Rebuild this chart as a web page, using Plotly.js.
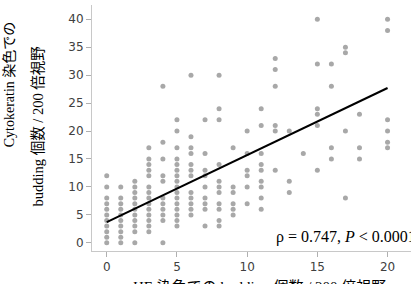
<!DOCTYPE html>
<html>
<head>
<meta charset="utf-8">
<script src="https://cdn.plot.ly/plotly-3.0.1.min.js"></script>
<style>html,body{margin:0;padding:0;background:#fff;}#chart{width:411px;height:284px;}</style>
</head>
<body>
<div id="chart"></div>
<script>
// HE budding count per 200x field (x) and the Cytokeratin budding counts observed at each x
const heCounts = [0,1,2,3,4,5,6,7,8,9,10,11,12,13,14,15,16,17,18,19,20];
const ckCountsByHe = [
  [12,10,8,7,6,5,4,3,2,1,0],
  [10,8,7,6,5,4,3,2,1,0],
  [11,10,9,8,7,6,5,4,3,2,0],
  [17,15,14,13,12,10,9,8,7,6,5,4,3,2],
  [28,18,15,12,11,8,7,6,5,4,0],
  [22,20,17,15,14,13,12,11,10,9,8,7,6,5,4,3],
  [30,19,17,16,14,13,12,9,8,7,6,5],
  [22,16,13,12,10,8,7,6,3],
  [30,24,22,14,11,10,9,7,6,4,3],
  [17,10,9,7,6,5],
  [20,16,13,12,10,7],
  [24,21,16,14,13,11,10,8,6],
  [33,31,28,21,20,13],
  [20,11,9],
  [16],
  [40,32,24,23,21,13],
  [32,28,17,15],
  [35,34,20,8],
  [23,17,15],
  [],
  [40,38,22,20,18,17]
];
const fitX = [0, 20];
const fitY = [3.7, 27.7];
const xTicks = [0,5,10,15,20];
const yTicks = [0,5,10,15,20,25,30,35,40];
const statText = 'ρ = 0.747, <i>P</i> < 0.0001';
const xTitle = 'HE 染色での budding 個数 / 200 倍視野';
const yTitle1 = 'Cytokeratin 染色での';
const yTitle2 = 'budding 個数 / 200 倍視野';

const px = [], py = [];
heCounts.forEach((x, i) => { ckCountsByHe[i].forEach(y => { px.push(x); py.push(y); }); });

const serif = 'Liberation Serif, Noto Sans CJK JP, serif';
const data = [
  {x: px, y: py, type: 'scatter', mode: 'markers',
   marker: {size: 5, color: '#a8a8a8', line: {width: 0}}, hoverinfo: 'none'},
  {x: fitX, y: fitY, type: 'scatter', mode: 'lines',
   line: {color: '#000', width: 2}, hoverinfo: 'none'}
];
const axisCommon = {
  showgrid: false, zeroline: false, showline: true, linecolor: '#c8c8c8', linewidth: 1,
  ticks: 'outside', ticklen: 5, tickcolor: '#b0b0b0', tickwidth: 1,
  tickfont: {family: 'DejaVu Sans, sans-serif', size: 12, color: '#404040'},
  fixedrange: true
};
const layout = {
  width: 411, height: 284,
  margin: {l: 92, r: 0, t: 5, b: 33, pad: 0},
  paper_bgcolor: '#fff', plot_bgcolor: '#fff',
  showlegend: false,
  xaxis: Object.assign({}, axisCommon, {range: [-1.05, 21.67], tickvals: xTicks, ticktext: xTicks.map(String)}),
  yaxis: Object.assign({}, axisCommon, {range: [-1.46, 42.55], tickvals: yTicks, ticktext: yTicks.map(String)}),
  annotations: [
    {text: statText, xref: 'x', yref: 'y', x: 11.93, y: 1.1, xanchor: 'left', yanchor: 'middle',
     showarrow: false, font: {family: serif, size: 16, color: '#000'}},
    {text: xTitle, xref: 'x', yref: 'paper', x: 10.85, y: -0.146, xanchor: 'center', yanchor: 'middle',
     showarrow: false, font: {family: serif, size: 15, color: '#000'}},
    {text: yTitle1, xref: 'paper', yref: 'paper', x: -0.256, y: 0.679, xanchor: 'center', yanchor: 'middle',
     textangle: -90, showarrow: false, font: {family: serif, size: 14, color: '#000'}},
    {text: yTitle2, xref: 'paper', yref: 'paper', x: -0.168, y: 0.508, xanchor: 'center', yanchor: 'middle',
     textangle: -90, showarrow: false, font: {family: serif, size: 14.5, color: '#000'}}
  ]
};
Plotly.newPlot('chart', data, layout, {staticPlot: true, displayModeBar: false});
</script>
</body>
</html>
